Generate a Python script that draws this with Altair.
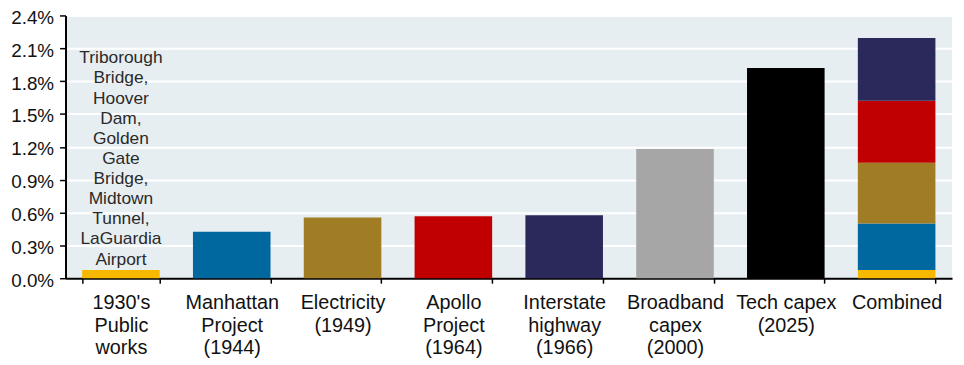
import altair as alt
import pandas as pd

# ---- data ----
categories = [
    "1930's|Public|works",
    "Manhattan|Project|(1944)",
    "Electricity|(1949)",
    "Apollo|Project|(1964)",
    "Interstate|highway|(1966)",
    "Broadband|capex|(2000)",
    "Tech capex|(2025)",
    "Combined",
]
values = [0.00075, 0.00425, 0.00555, 0.00565, 0.00575, 0.0118, 0.0192]
colors = ["#F7B800", "#00679F", "#A07D25", "#C00000", "#2B285C", "#A6A6A6", "#000000"]
combined_parts = categories[:5]
y_ticks = [0.0, 0.003, 0.006, 0.009, 0.012, 0.015, 0.018, 0.021, 0.024]
annotation_lines = ["Triborough", "Bridge,", "Hoover", "Dam,", "Golden", "Gate",
                    "Bridge,", "Midtown", "Tunnel,", "LaGuardia", "Airport"]
annotation_y = 0.0209

rows = []
for i, (c, v) in enumerate(zip(categories[:7], values)):
    rows.append({"cat": c, "component": c, "value": v, "order": i})
for i, c in enumerate(combined_parts):
    rows.append({"cat": categories[7], "component": c, "value": values[i], "order": i})
df = pd.DataFrame(rows)

ann = pd.DataFrame([{"cat": categories[0], "y": annotation_y, "text": "\n".join(annotation_lines)}])

x_scale = alt.Scale(domain=categories, paddingInner=0.3, paddingOuter=0.15)
x_axis = alt.Axis(
    title=None, labelAngle=0, labelExpr="split(datum.label, '|')",
    labelFontSize=20, labelLineHeight=22.5, labelColor="#111111",
    labelPadding=10, labelBaseline="top", labelOverlap=False, labelLimit=300,
    tickBand="extent", tickSize=5, tickColor="#000000", tickWidth=1.5,
    domainColor="#000000", domainWidth=2, grid=False,
)
y_scale = alt.Scale(domain=[0, 0.024], nice=False)
y_axis = alt.Axis(
    title=None, values=y_ticks, format=".1%",
    labelFontSize=19, labelColor="#111111", labelPadding=6,
    labelOverlap=False, labelOffset=2, labelFlush=False,
    tickSize=6, tickColor="#000000", tickWidth=1.5,
    domainColor="#000000", domainWidth=2,
    grid=True, gridColor="#FFFFFF", gridWidth=2,
)

bars = alt.Chart(df).mark_bar().encode(
    x=alt.X("cat:N", sort=categories, scale=x_scale, axis=x_axis),
    y=alt.Y("value:Q", stack="zero", scale=y_scale, axis=y_axis),
    color=alt.Color("component:N", scale=alt.Scale(domain=categories[:7], range=colors), legend=None),
    order=alt.Order("order:Q", sort="ascending"),
)

text = alt.Chart(ann).mark_text(
    align="center", baseline="top", fontSize=17.5, lineHeight=20.3,
    lineBreak="\n", color="#2a2a2a",
).encode(
    x=alt.X("cat:N", sort=categories, scale=x_scale, axis=x_axis),
    y=alt.Y("y:Q", scale=y_scale, axis=y_axis),
    text="text:N",
)

chart = alt.layer(bars, text).properties(
    width=894, height=265,
    autosize=alt.AutoSizeParams(type="none"),
    padding={"left": 58, "top": 6, "right": 4, "bottom": 86},
).configure(font="Liberation Sans").configure_view(fill="#E7EEF2", stroke=None)

chart.save("out.html", embed_options={"renderer": "svg", "actions": False})
